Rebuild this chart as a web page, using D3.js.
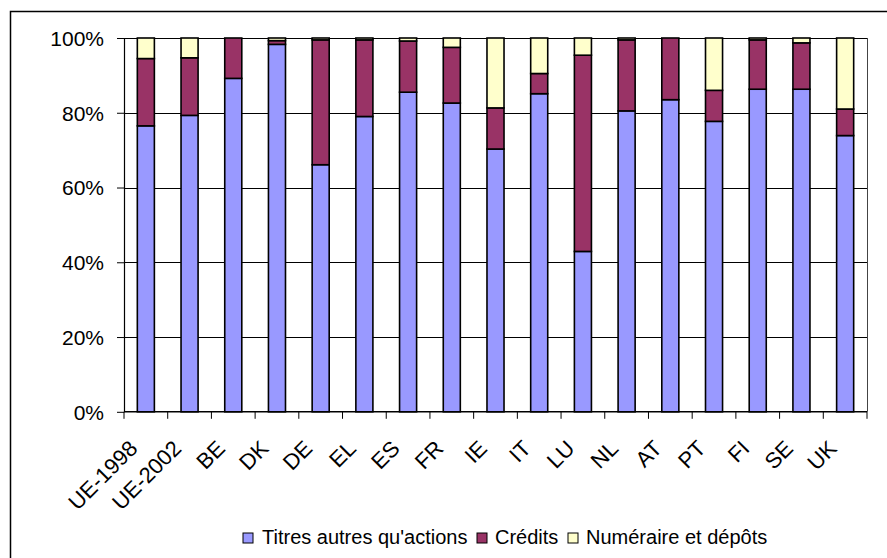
<!DOCTYPE html>
<html>
<head>
<meta charset="utf-8">
<script src="https://cdn.jsdelivr.net/npm/d3@7"></script>
<style>
  body { margin: 0; background: #fff; }
  text { font-family: "Liberation Sans", Arial, sans-serif; fill: #000; }
</style>
</head>
<body>
<div id="chart"></div>
<script>
var categories = ["UE-1998","UE-2002","BE","DK","DE","EL","ES","FR","IE","IT","LU","NL","AT","PT","FI","SE","UK"];
var titres    = [76.5, 79.3, 89.2, 98.3, 66.1, 79.0, 85.5, 82.6, 70.3, 85.1, 42.9, 80.5, 83.5, 77.7, 86.3, 86.3, 73.9];
var credits   = [18.0, 15.4, 10.8,  1.0, 33.4, 20.5, 13.7, 14.9, 11.0,  5.4, 52.5, 19.0, 16.5,  8.3, 13.2, 12.4,  7.1];
var numeraire = [ 5.5,  5.3,  0.0,  0.7,  0.5,  0.5,  0.8,  2.5, 18.7,  9.5,  4.6,  0.5,  0.0, 14.0,  0.5,  1.3, 19.0];
var seriesNames = ["Titres autres qu'actions", "Crédits", "Numéraire et dépôts"];
var seriesColors = ["#9999FF", "#993366", "#FFFFCC"];
var yTicks = [0, 20, 40, 60, 80, 100];

var W = 887, H = 558;
var margin = {top: 38, right: 20, bottom: 147, left: 124};
var width = 867 - margin.left,
    height = 411.8 - margin.top;

var svg = d3.select("#chart").append("svg")
    .attr("width", W).attr("height", H);

// outer chart frame
svg.append("rect")
    .attr("x", 10.5).attr("y", 11.5)
    .attr("width", W + 10).attr("height", H + 10)
    .attr("fill", "none").attr("stroke", "#000").attr("stroke-width", 1.5);

var g = svg.append("g")
    .attr("transform", "translate(" + margin.left + "," + margin.top + ")");

var data = categories.map((c, i) => ({cat: c, s0: titres[i], s1: credits[i], s2: numeraire[i]}));
var stack = d3.stack().keys(["s0", "s1", "s2"])(data);

var x = d3.scaleBand().domain(categories).range([0, width]).paddingInner(0.61).paddingOuter(0.305);
var y = d3.scaleLinear().domain([0, 100]).range([height, 0]);

// gridlines
g.append("g").selectAll("line")
    .data(yTicks.filter(d => d > 0))
    .enter().append("line")
    .attr("x1", 0).attr("x2", width)
    .attr("y1", d => Math.round(y(d)) + 0.5).attr("y2", d => Math.round(y(d)) + 0.5)
    .attr("stroke", "#000").attr("stroke-width", 1);

// right border of plot area
g.append("line")
    .attr("x1", width + 0.5).attr("x2", width + 0.5)
    .attr("y1", 0).attr("y2", height)
    .attr("stroke", "#444").attr("stroke-width", 1);

// bars
g.selectAll(".layer")
    .data(stack)
    .enter().append("g")
    .attr("fill", (d, i) => seriesColors[i])
    .selectAll("rect")
    .data(d => d)
    .enter().append("rect")
    .attr("x", d => x(d.data.cat))
    .attr("y", d => y(d[1]))
    .attr("width", x.bandwidth())
    .attr("height", d => y(d[0]) - y(d[1]))
    .attr("stroke", "#000").attr("stroke-width", 1.6);

// y axis
var yAxis = g.append("g")
    .call(d3.axisLeft(y).tickValues(yTicks).tickFormat(d => d + "%").tickSize(7).tickSizeOuter(0));
yAxis.select(".domain").attr("stroke", "#000").attr("stroke-width", 1.2);
yAxis.selectAll(".tick line").attr("stroke", "#000");
yAxis.selectAll("text").attr("font-size", 21).attr("x", -20).attr("dy", "0.35em");

// x axis: ticks on category boundaries
var xAxisG = g.append("g").attr("transform", "translate(0," + height + ")");
xAxisG.append("line").attr("x1", 0).attr("x2", width).attr("y1", 0).attr("y2", 0)
    .attr("stroke", "#000").attr("stroke-width", 1.5);
var step = x.step();
xAxisG.selectAll(".xt")
    .data(d3.range(categories.length + 1))
    .enter().append("line")
    .attr("x1", i => i * step).attr("x2", i => i * step)
    .attr("y1", 0).attr("y2", 7)
    .attr("stroke", "#000");
xAxisG.selectAll(".xl")
    .data(categories)
    .enter().append("text")
    .attr("transform", d => "translate(" + (x(d) + x.bandwidth() / 2 - 7) + ",38) rotate(-45)")
    .attr("text-anchor", "end")
    .attr("font-size", 22)
    .text(d => d);

// legend
var legendItems = [{x: 243, tx: 262}, {x: 477, tx: 495}, {x: 568, tx: 586}];
var legend = svg.append("g");
legendItems.forEach((p, i) => {
  legend.append("rect")
    .attr("x", p.x).attr("y", 533).attr("width", 10).attr("height", 10)
    .attr("fill", seriesColors[i]).attr("stroke", "#000").attr("stroke-width", 1);
  legend.append("text")
    .attr("x", p.tx).attr("y", 544)
    .attr("font-size", 20)
    .text(seriesNames[i]);
});
</script>
</body>
</html>
